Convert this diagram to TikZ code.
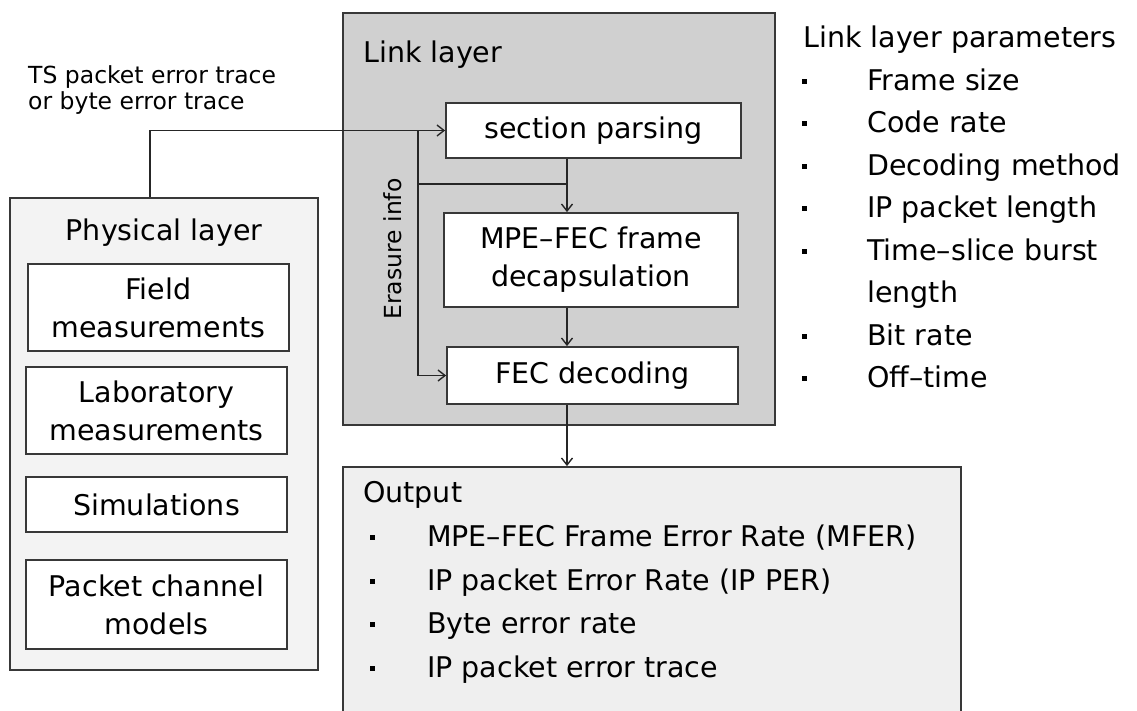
\documentclass[tikz,border=0pt]{standalone}
\usepackage{fontspec}
\setmainfont{DejaVu Sans}
\usetikzlibrary{arrows.meta}
\definecolor{linkgray}{HTML}{D0D0D0}
\definecolor{physgray}{HTML}{F3F3F3}
\definecolor{outgray}{HTML}{EFEFEF}
\definecolor{edge}{HTML}{383838}

\begin{document}
\begin{tikzpicture}[x=1pt,y=-1pt,
  bigtext/.style={font=\fontsize{28.5}{38}\selectfont},
  smalltext/.style={font=\fontsize{23.5}{26}\selectfont},
  frame/.style={draw=edge, line width=1.8pt, inner sep=0pt},
  stepbox/.style={frame, fill=white, align=center, bigtext},
  label/.style={anchor=base west, inner sep=0pt},
  wire/.style={draw=black!85, line width=1.6pt},
  flow/.style={wire, -{Straight Barb[length=7pt,width=11pt,line width=1.4pt]}},
  bulletsq/.style={fill=black, minimum size=5pt, inner sep=0pt},
]
\useasboundingbox (0,0) rectangle (1137,710);
\clip (0,0) rectangle (1137,710);

% ---- physical layer ----
\node[frame, fill=physgray, minimum width=308, minimum height=472] (phys) at (164,434) {};
\node[bigtext, anchor=base, inner sep=0pt] (physT) at (164,240) {Physical layer};
\node[stepbox, minimum width=261, minimum height=87] (field) at (158.5,307.5) {Field\\measurements};
\node[stepbox, minimum width=261, minimum height=87] (lab) at (156.5,410.5) {Laboratory\\measurements};
\node[stepbox, minimum width=261, minimum height=55] (sim) at (156.5,504.5) {Simulations};
\node[stepbox, minimum width=261, minimum height=89] (pcm) at (156.5,604.5) {Packet channel\\models};

% ---- link layer ----
\node[frame, fill=linkgray, minimum width=432, minimum height=412] (link) at (559,219) {};
\node[label, bigtext] (linkT) at (363,62) {Link layer};
\node[stepbox, minimum width=295, minimum height=55] (sp) at (593.5,130.5) {section parsing};
\node[stepbox, minimum width=294, minimum height=94] (mpe) at (591,260) {MPE--FEC frame\\decapsulation};
\node[stepbox, minimum width=291, minimum height=57] (fec) at (592.5,375.5) {FEC decoding};
\node[smalltext, rotate=90, inner sep=0pt] (eras) at (393,249) {Erasure info};

% ---- output ----
\node[frame, fill=outgray, minimum width=618, minimum height=263] (out) at (652,598.5) {};
\node[label, bigtext] (outT) at (363,502) {Output};
\foreach \yb/\txt [count=\i] in {546/{MPE--FEC Frame Error Rate (MFER)},
    590/{IP packet Error Rate (IP PER)}, 633/{Byte error rate},
    677/{IP packet error trace}} {
  \node[bulletsq] (ob\i) at (372,\yb-9) {};
  \node[label, bigtext] (ot\i) at (427,\yb) {\txt};
}

% ---- link layer parameters ----
\node[label, bigtext] (parT) at (803,47) {Link layer parameters};
\foreach \yb/\txt [count=\i] in {90/{Frame size}, 132.5/{Code rate},
    175/{Decoding method}, 217.5/{IP packet length},
    260/{Time--slice burst}, 345/{Bit rate}, 387.5/{Off--time}} {
  \node[bulletsq] (pb\i) at (804,\yb-9) {};
  \node[label, bigtext] (pt\i) at (867,\yb) {\txt};
}
\node[label, bigtext] (pt5b) at (867,302.5) {length};

% ---- trace label ----
\node[label, smalltext] (ts1) at (28,83) {TS packet error trace};
\node[label, smalltext] (ts2) at (28,109) {or byte error trace};

% ---- connectors ----
\coordinate (upx) at (150,0);
\coordinate (erx) at (418,0);
\coordinate (dnx) at (567,0);
\coordinate (brk) at (418,184);
\draw[flow] (phys.north -| upx) |- (sp.west);
\draw[flow] (sp.west -| erx) -- (fec.west -| erx) -- (fec.west);
\draw[wire] (brk) -- (brk -| dnx);
\draw[flow] (sp.south -| dnx) -- (mpe.north -| dnx);
\draw[flow] (mpe.south -| dnx) -- (fec.north -| dnx);
\draw[flow] (fec.south -| dnx) -- (out.north -| dnx);
\end{tikzpicture}
\end{document}
